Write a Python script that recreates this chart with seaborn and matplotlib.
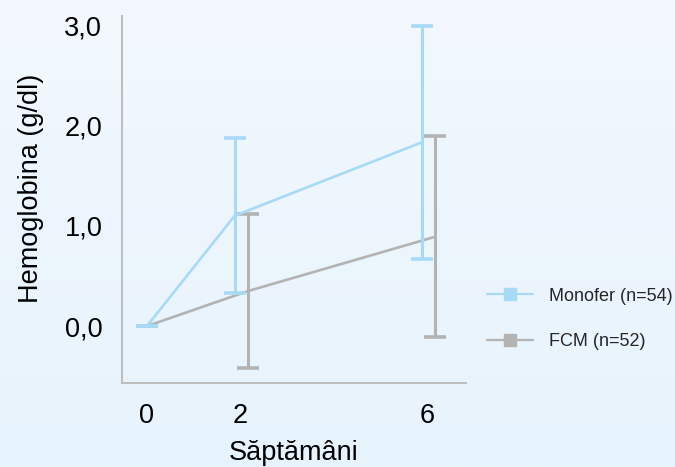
import numpy as np
import pandas as pd
import matplotlib
matplotlib.use("Agg")
import matplotlib.pyplot as plt
import seaborn as sns
from matplotlib.lines import Line2D

# data
weeks = [0, 2, 6]
week_labels = ["0", "2", "6"]
groups = ["Monofer (n=54)", "FCM (n=52)"]
monofer_mean = [0.0, 1.10, 1.83]
monofer_err = [0.0, 0.77, 1.16]
fcm_mean = [0.0, 0.35, 0.89]
fcm_err = [0.0, 0.77, 1.00]
y_ticks = [0, 1, 2, 3]
y_tick_labels = ["0,0", "1,0", "2,0", "3,0"]

colors = {groups[0]: "#A8DAF6", groups[1]: "#B3B3B3"}
dodge = {groups[0]: -0.12, groups[1]: 0.17}

rows = []
for g, means, errs in [(groups[0], monofer_mean, monofer_err),
                       (groups[1], fcm_mean, fcm_err)]:
    for w, m, e in zip(weeks, means, errs):
        pos = w + (dodge[g] if w > 0 else 0.0)
        rows.append({"group": g, "pos": pos, "mean": m, "err": e})
df = pd.DataFrame(rows)

sns.set_theme(style="white")
plt.rcParams["font.family"] = ["Liberation Sans", "DejaVu Sans"]

fig = plt.figure(figsize=(6.75, 4.67), dpi=100)

# soft vertical gradient background
bg = fig.add_axes([0, 0, 1, 1], zorder=-10)
grad = np.linspace(0, 1, 256).reshape(-1, 1)
bg.imshow(grad, aspect="auto", extent=[0, 1, 0, 1],
          cmap=matplotlib.colors.LinearSegmentedColormap.from_list("bg", ["#F2F8FE", "#E7F3FC"]))
bg.set_axis_off()

ax = fig.add_axes([0.1803, 0.1792, 0.5099, 0.7865])
ax.set_facecolor("none")

# error bars first (FCM under Monofer)
for g in [groups[1], groups[0]]:
    d = df[df["group"] == g]
    ax.errorbar(d["pos"], d["mean"], yerr=d["err"], fmt="none",
                ecolor=colors[g], elinewidth=2.2, capsize=7.6, capthick=2.6,
                zorder=2 if g == groups[1] else 3)

sns.lineplot(data=df, x="pos", y="mean", hue="group", hue_order=groups,
             palette=colors, sort=False, linewidth=1.9, legend=False, ax=ax,
             estimator=None, errorbar=None)

ax.set_xlim(-0.54, 6.83)
ax.set_ylim(-0.57, 3.09)
ax.set_xticks(weeks)
ax.set_xticklabels(week_labels)
ax.set_yticks(y_ticks)
ax.set_yticklabels(y_tick_labels)
ax.tick_params(axis="both", length=0, labelsize=19.5, colors="black")
ax.tick_params(axis="y", pad=14)
ax.tick_params(axis="x", pad=14)

for side in ["top", "right"]:
    ax.spines[side].set_visible(False)
for side in ["left", "bottom"]:
    ax.spines[side].set_color("#BDBDBD")
    ax.spines[side].set_linewidth(1.4)

ax.set_xlabel("Săptămâni", fontsize=19.5, color="black")
ax.set_ylabel("Hemoglobina (g/dl)", fontsize=19.5, color="black")
ax.xaxis.set_label_coords(0.5, -0.155)
ax.yaxis.set_label_coords(-0.226, 0.532)

handles = [Line2D([0], [0], color=colors[g], lw=1.6, marker="s", markersize=8,
                  markerfacecolor=colors[g], markeredgecolor=colors[g]) for g in groups]
fig.legend(handles, groups, loc="center left", bbox_to_anchor=(487 / 675, 1 - 319 / 467),
           frameon=False, fontsize=13, handlelength=2.55, handletextpad=0.9,
           labelspacing=1.6, borderpad=0, borderaxespad=0)

fig.savefig("out.png", dpi=100)
